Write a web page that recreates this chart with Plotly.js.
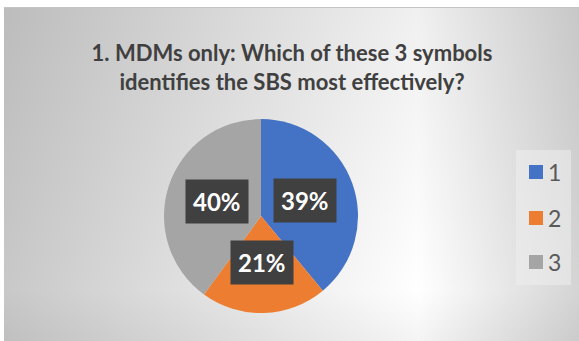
<!DOCTYPE html>
<html>
<head>
<meta charset="utf-8">
<script src="https://cdn.plot.ly/plotly-3.0.1.min.js"></script>
<style>
html,body{margin:0;padding:0;background:#fff;}
#bg{position:absolute;left:4px;top:7px;width:575px;height:334px;
  border-top:1px solid #c4c4c4;box-sizing:border-box;
  background-image:linear-gradient(to right,#c8c8c8 0%,#ffffff 72%,#d4d4d4 100%),
                   linear-gradient(to bottom,#f0f0f0 0%,#ffffff 85%,#f4f4f4 100%);
  background-blend-mode:multiply;}
#chart{position:absolute;left:0;top:0;width:579px;height:341px;}
</style>
</head>
<body>
<div id="bg"></div>
<div id="chart"></div>
<script>
const labels = ['1', '2', '3'];
const values = [39, 21, 40];
const colors = ['#4472C4', '#ED7D31', '#A5A5A5'];
const titleText = '1. MDMs only: Which of these 3 symbols<br>identifies the SBS most effectively?';

const W = 579, H = 341;
const cx = 261, cy = 216, R = 97;
const dom = {x: [(cx - R) / W, (cx + R) / W], y: [1 - (cy + R) / H, 1 - (cy - R) / H]};

const total = values.reduce((a, b) => a + b, 0);
const annotations = [];
let cum = 0;
values.forEach((v, i) => {
  const mid = (cum + v / 2) / total * 2 * Math.PI;
  cum += v;
  const px = cx + 0.48 * R * Math.sin(mid);
  const py = cy - 0.48 * R * Math.cos(mid);
  annotations.push({
    xref: 'paper', yref: 'paper', x: px / W, y: 1 - py / H,
    xanchor: 'center', yanchor: 'middle', showarrow: false,
    text: '<b>' + Math.round(v / total * 100) + '%</b>',
    font: {family: 'Lato, sans-serif', size: 24, color: '#ffffff'},
    bgcolor: '#404040', borderpad: 7
  });
});

// legend
const shapes = [{
  type: 'rect', xref: 'paper', yref: 'paper',
  x0: 516 / W, x1: 571 / W, y0: 1 - 285 / H, y1: 1 - 150 / H,
  fillcolor: 'rgba(238,238,238,0.55)', line: {width: 0}, layer: 'below'
}];
const legY = [172, 218, 262];
labels.forEach((l, i) => {
  shapes.push({
    type: 'rect', xref: 'paper', yref: 'paper',
    x0: 529 / W, x1: 543 / W, y0: 1 - (legY[i] + 7) / H, y1: 1 - (legY[i] - 7) / H,
    fillcolor: colors[i], line: {width: 0}
  });
  annotations.push({
    xref: 'paper', yref: 'paper', x: 546 / W, y: 1 - legY[i] / H,
    xanchor: 'left', yanchor: 'middle', showarrow: false, text: l,
    font: {family: 'Lato, sans-serif', size: 23, color: '#595959'}
  });
});

const data = [{
  type: 'pie', labels: labels, values: values,
  marker: {colors: colors, line: {width: 0}},
  sort: false, direction: 'clockwise', rotation: 0,
  textinfo: 'none', hoverinfo: 'label+percent',
  domain: dom, showlegend: false
}];

const layout = {
  width: W, height: H,
  margin: {l: 0, r: 0, t: 0, b: 0},
  paper_bgcolor: 'rgba(0,0,0,0)', plot_bgcolor: 'rgba(0,0,0,0)',
  showlegend: false,
  title: {
    text: '<b>' + titleText + '</b>',
    x: 292 / W, xanchor: 'center', xref: 'paper',
    y: 1 - 61 / H, yanchor: 'middle', yref: 'paper',
    font: {family: 'Lato, sans-serif', size: 22, color: '#404040'}
  },
  annotations: annotations,
  shapes: shapes
};

Plotly.newPlot('chart', data, layout, {displayModeBar: false, staticPlot: true});
</script>
</body>
</html>
